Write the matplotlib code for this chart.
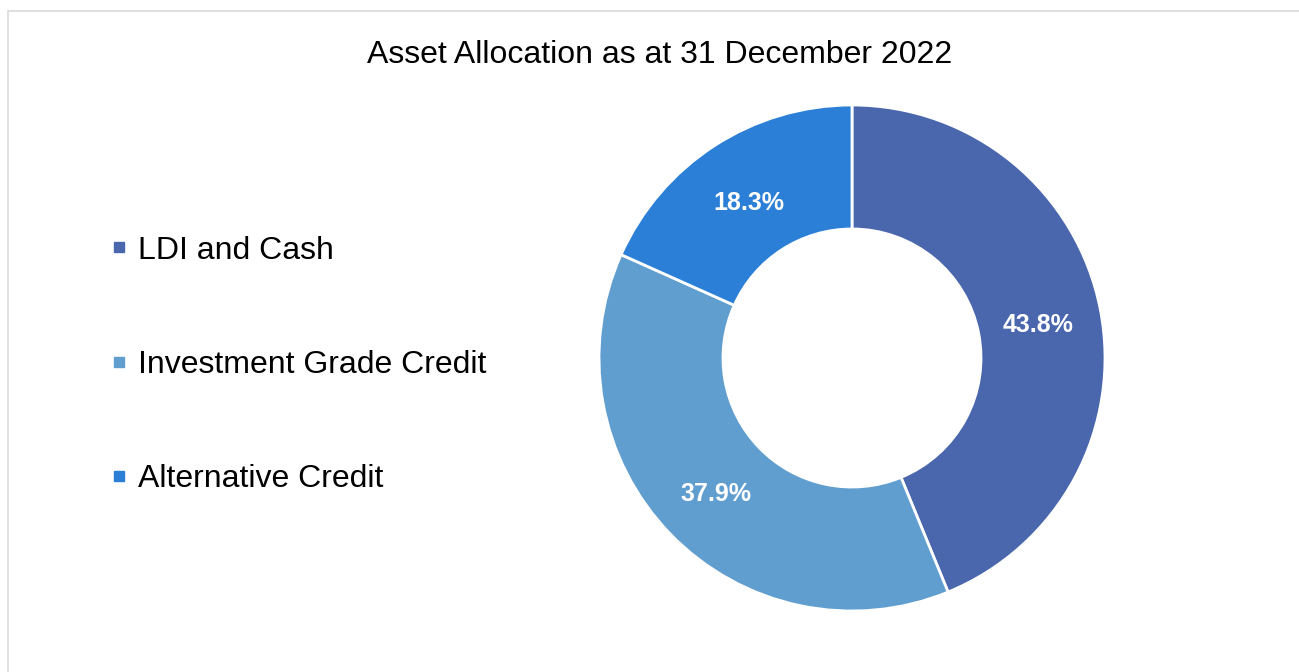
import matplotlib.pyplot as plt
from matplotlib.lines import Line2D
from matplotlib.patches import Rectangle

plt.rcParams['font.family'] = ['Liberation Sans', 'DejaVu Sans']

# Data
categories = ['LDI and Cash', 'Investment Grade Credit', 'Alternative Credit']
shares = [43.8, 37.9, 18.3]
colors = ['#4A67AD', '#619ED0', '#2B7FD6']

W, H = 1299, 672
fig = plt.figure(figsize=(W / 100, H / 100), dpi=100)

# light grey frame (only left and top visible in the reference)
fig.patches.append(Rectangle((8 / W, -0.1), 1.2, (H - 11) / H + 0.1,
                             transform=fig.transFigure, fill=False,
                             edgecolor='#D9D9D9', linewidth=1.2))

# donut: centre (852, 358), radius ~253 px
r = 253
ax = fig.add_axes([(852 - r) / W, (H - 358 - r) / H, 2 * r / W, 2 * r / H])
wedges, texts, autotexts = ax.pie(
    shares, colors=colors, startangle=90, counterclock=False,
    autopct='%1.1f%%', pctdistance=0.75,
    wedgeprops=dict(width=0.49, edgecolor='white', linewidth=2),
    textprops=dict(color='white', fontsize=18, fontweight='bold'))
for t in autotexts:
    x, y = t.get_position()
    t.set_position((x, y - 0.015))
ax.set_xlim(-1, 1)
ax.set_ylim(-1, 1)
ax.set_aspect('equal')

fig.text(660 / W, 1 - 55 / H, 'Asset Allocation as at 31 December 2022',
         ha='center', va='center', fontsize=23)

handles = [Line2D([], [], marker='s', linestyle='none', markersize=7,
                  markerfacecolor=c, markeredgecolor=c) for c in colors]
fig.legend(handles, categories, loc='center left',
           bbox_to_anchor=(95 / W, 1 - 365 / H), frameon=False,
           fontsize=23, labelspacing=2.64, handlelength=0.5,
           handletextpad=0.35, borderpad=0)

fig.savefig('out.png', dpi=100)
